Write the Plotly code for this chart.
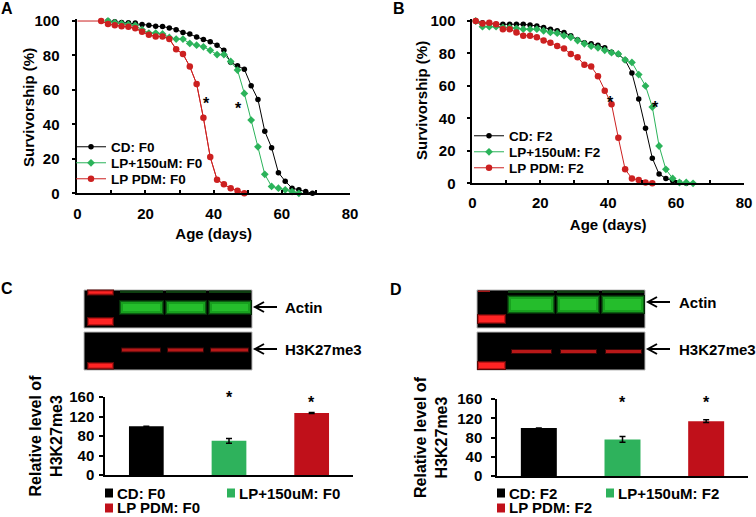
import plotly.graph_objects as go

FONT = "Liberation Sans, Arial, sans-serif"
W, H = 756, 517

# ---------------- DATA ----------------
# Panel A (F0) survivorship
days_cd_f0 = [9, 11, 13, 15, 17, 19, 21, 23, 25, 27, 29, 31, 33, 35, 37, 39, 41, 43, 45, 47,
              49, 51, 53, 55, 57, 59, 61, 63, 65, 67, 69]
surv_cd_f0 = [100, 99.6, 99.2, 99, 98.8, 98, 97.6, 97, 96.8, 96, 95, 93.4, 92.4, 90.7, 89.3, 88,
              86, 83, 76, 74, 72, 62.5, 54.5, 36, 26.5, 12, 7, 3, 2, 1, 0]
days_lp_f0 = [9, 11, 13, 15, 17, 19, 21, 23, 25, 27, 29, 31, 33, 35, 37, 39, 41, 43, 45, 47,
              49, 51, 53, 55, 57, 59, 61, 63, 65]
surv_lp_f0 = [100, 99, 98.5, 98, 97.5, 95, 93, 93, 92.5, 90.5, 89.5, 89.5, 87, 86, 85, 83,
              80.5, 80.5, 76.5, 71.5, 58, 42.5, 27, 11, 4, 3, 2, 1, 0]
days_pdm_f0 = [0, 7, 9, 11, 13, 15, 17, 19, 21, 23, 25, 27, 29, 31, 33, 35, 37, 39, 41, 43,
               45, 47, 49]
surv_pdm_f0 = [100, 100, 98.3, 97.5, 97, 96.7, 95.8, 93.8, 92, 91, 91, 89.6, 83.6, 80.8, 73.6,
               63.5, 43.8, 21, 7.9, 5.2, 2.9, 1.5, 0]

# Panel B (F2) survivorship
days_cd_f2 = [1, 3, 5, 7, 9, 11, 13, 15, 17, 19, 21, 23, 25, 27, 29, 31, 33, 35, 37, 39,
              41, 43, 45, 47, 49, 51, 53, 55, 57, 59, 61, 63]
surv_cd_f2 = [100, 99, 98.5, 98, 98, 98, 98, 98, 97.5, 97, 96, 95, 94, 93, 91, 88.5, 86.6, 86,
              85, 83.6, 80.8, 79.5, 76, 68, 52, 34, 15.5, 5.7, 3, 1.5, 0.5, 0]
days_lp_f2 = [1, 3, 5, 7, 9, 11, 13, 15, 17, 19, 21, 23, 25, 27, 29, 31, 33, 35, 37, 39,
              41, 43, 45, 47, 49, 51, 53, 55, 57, 59, 61, 63, 65]
surv_lp_f2 = [100, 96.5, 96.5, 96.5, 96, 96, 95.5, 95, 95, 95, 94, 93, 92.5, 91, 90, 88, 86,
              84.5, 83.5, 82, 80.5, 79.7, 76, 74.5, 67, 60, 47, 23, 8.6, 3, 0.5, 0.5, 0]
days_pdm_f2 = [1, 3, 5, 7, 9, 11, 13, 15, 17, 19, 21, 23, 25, 27, 29, 31, 33, 35, 37, 39,
               41, 43, 45, 47, 49, 51, 53]
surv_pdm_f2 = [100, 98.5, 99, 98, 95, 95, 93, 91, 91, 90, 88, 86.6, 84.6, 83, 79.7, 77.6, 73,
               72, 66, 57, 48.7, 28, 8.6, 3, 2, 0.5, 0]

# Panels C / D bar charts
bar_groups = ["CD", "LP+150uM", "LP PDM"]
h3_f0 = [100, 70, 127]
h3_f0_err = [0, 5, 1]
h3_f2 = [100, 76, 114]
h3_f2_err = [0, 6, 3]
sig_f0 = ["", "*", "*"]
sig_f2 = ["", "*", "*"]

x_ticks_surv = [0, 20, 40, 60, 80]
y_ticks_surv = [0, 20, 40, 60, 80, 100]
y_ticks_bar = [0, 40, 80, 120, 160]

BLACK = "#000000"
GREEN = "#2bb35a"
RED = "#cc2020"
BAR_GREEN = "#2eb25c"
BAR_RED = "#c0101a"


def X(px):
    return px / W


def Y(py):
    return 1 - py / H


fig = go.Figure()

# ---------------- Survival traces ----------------
def surv_trace(x, y, name, color, symbol, size, xa, ya, leg):
    return go.Scatter(x=x, y=y, mode="lines+markers", name=name,
                      line=dict(color=color, width=1),
                      marker=dict(symbol=symbol, size=size, color=color),
                      xaxis=xa, yaxis=ya, legend=leg, cliponaxis=False)

# leading segment of the LP PDM F0 curve (day 0, no marker)
fig.add_trace(go.Scatter(x=days_pdm_f0, y=surv_pdm_f0, mode="lines",
                         line=dict(color=RED, width=1), xaxis="x", yaxis="y",
                         showlegend=False, hoverinfo="skip"))
fig.add_trace(surv_trace(days_cd_f0, surv_cd_f0, "CD: F0", BLACK, "circle", 5.5, "x", "y", "legend"))
fig.add_trace(surv_trace(days_lp_f0, surv_lp_f0, "LP+150uM: F0", GREEN, "diamond", 6, "x", "y", "legend2"))
fig.add_trace(surv_trace(days_pdm_f0[1:], surv_pdm_f0[1:], "LP PDM: F0", RED, "circle", 6.5,
                         "x", "y", "legend3"))

fig.add_trace(surv_trace(days_cd_f2, surv_cd_f2, "CD: F2", BLACK, "circle", 5.5, "x2", "y2", "legend4"))
fig.add_trace(surv_trace(days_lp_f2, surv_lp_f2, "LP+150uM: F2", GREEN, "diamond", 6, "x2", "y2", "legend5"))
fig.add_trace(surv_trace(days_pdm_f2, surv_pdm_f2, "LP PDM: F2", RED, "circle", 6.5, "x2", "y2", "legend6"))

# ---------------- Bar traces ----------------
bar_colors = [BLACK, BAR_GREEN, BAR_RED]
fig.add_trace(go.Bar(x=bar_groups, y=h3_f0, marker=dict(color=bar_colors, line=dict(width=0)),
                     error_y=dict(type="data", array=h3_f0_err, color="black", thickness=1.5, width=3),
                     width=0.42, xaxis="x3", yaxis="y3", showlegend=False))
fig.add_trace(go.Bar(x=bar_groups, y=h3_f2, marker=dict(color=bar_colors, line=dict(width=0)),
                     error_y=dict(type="data", array=h3_f2_err, color="black", thickness=1.5, width=3),
                     width=0.43, xaxis="x4", yaxis="y4", showlegend=False))

# ---------------- Axes ----------------
tf = dict(family=FONT, size=15, color="black", weight="bold")
ttf = dict(family=FONT, size=15, color="black", weight="bold")
btf = dict(family=FONT, size=15, color="black", weight="bold")
common_x = dict(range=[0, 80], tickvals=x_ticks_surv, ticks="inside", ticklen=4, tickwidth=1.5,
                tickcolor="black", showline=True, linecolor="black", linewidth=1.5,
                showgrid=False, zeroline=False, tickfont=tf, automargin=False,
                minor=dict(dtick=10, tick0=0, ticks="inside", ticklen=4, tickwidth=1.5,
                           tickcolor="black", showgrid=False))
common_y = dict(range=[0, 101], tickvals=y_ticks_surv, ticks="outside", ticklen=4, tickwidth=1.5,
                tickcolor="black", showline=True, linecolor="black", linewidth=1.5,
                showgrid=False, zeroline=False, tickfont=tf, automargin=False)

fig.update_layout(
    xaxis=dict(common_x, domain=[X(77.3), X(350)], anchor="y", ticklabelstandoff=6,
               title=dict(text="Age (days)", font=ttf, standoff=7)),
    yaxis=dict(common_y, domain=[Y(193.3), Y(19.3)], anchor="x", ticklabelstandoff=9),
    xaxis2=dict(common_x, domain=[X(472.3), X(744)], anchor="y2", ticklabelstandoff=5,
                title=dict(text="Age (days)", font=ttf, standoff=9)),
    yaxis2=dict(common_y, domain=[Y(183.3), Y(19.4)], anchor="x2", ticklabelstandoff=8),
)

bar_x = dict(type="category", showline=True, linecolor="black", linewidth=1.5, ticks="",
             showticklabels=False, showgrid=False, zeroline=False, range=[-0.5, 2.5],
             automargin=False)
bar_y = dict(range=[0, 160], tickvals=y_ticks_bar, ticks="outside", ticklen=4, tickwidth=1.5,
             tickcolor="black", showline=True, linecolor="black", linewidth=1.5,
             showgrid=False, zeroline=False, tickfont=btf, automargin=False)
fig.update_layout(
    xaxis3=dict(bar_x, domain=[X(105), X(353)], anchor="y3"),
    yaxis3=dict(bar_y, domain=[Y(475), Y(397)], anchor="x3", ticklabelstandoff=2,
                title=dict(text="Relative level of<br>H3K27me3",
                           font=dict(family=FONT, size=16, color="black", weight="bold"), standoff=3)),
    xaxis4=dict(bar_x, domain=[X(497), X(748)], anchor="y4"),
    yaxis4=dict(bar_y, domain=[Y(476), Y(399)], anchor="x4", ticklabelstandoff=6,
                title=dict(text="Relative level of<br>H3K27me3",
                           font=dict(family=FONT, size=16, color="black", weight="bold"), standoff=6)),
)

# ---------------- Legends (survival) ----------------
lf = dict(family=FONT, size=13.5, color="black", weight="bold")
def leg(xpx, ypx):
    return dict(x=X(xpx), y=Y(ypx), xanchor="left", yanchor="middle", font=lf,
                bgcolor="rgba(0,0,0,0)", borderwidth=0, itemwidth=30, tracegroupgap=0)

fig.update_layout(
    legend=leg(71, 147), legend2=leg(71, 163), legend3=leg(71, 179),
    legend4=leg(469, 136), legend5=leg(469, 152), legend6=leg(469, 168),
)

shapes = []
annots = []


def rect(x0, y0, x1, y1, fill, line_color=None, lw=0):
    shapes.append(dict(type="rect", xref="paper", yref="paper",
                       x0=X(x0), x1=X(x1), y0=Y(y1), y1=Y(y0),
                       fillcolor=fill, line=dict(color=line_color or fill, width=lw),
                       layer="above"))


def text(xpx, ypx, s, size=15, xanchor="left", angle=0):
    annots.append(dict(x=X(xpx), y=Y(ypx), xref="paper", yref="paper", text=s,
                       showarrow=False, xanchor=xanchor, yanchor="middle", textangle=angle,
                       font=dict(family=FONT, size=size, color="black", weight="bold")))


def arrow(x_tip, x_tail, ypx):
    path = (f"M {X(x_tail)},{Y(ypx)} L {X(x_tip)},{Y(ypx)} "
            f"M {X(x_tip + 9)},{Y(ypx - 5)} L {X(x_tip)},{Y(ypx)} L {X(x_tip + 9)},{Y(ypx + 5)}")
    shapes.append(dict(type="path", xref="paper", yref="paper", path=path,
                       line=dict(color="black", width=2)))


def green_band(x0, x1, y0, y1):
    rect(x0 - 1, y0 - 2, x1 + 1, y1 + 2, "#052a08")
    rect(x0, y0 - 1, x1, y1 + 1, "#0c5e12")
    rect(x0 + 1, y0, x1 - 1, y1, "#18a01f")
    rect(x0 + 3, y0 + 2, x1 - 3, y1 - 2, "#25bd2c")


def red_band(x0, x1, y0, y1):
    rect(x0 - 1, y0 - 1, x1 + 1, y1 + 1, "#5a0808")
    rect(x0, y0, x1, y1, "#c01414")
    rect(x0 + 1, y0 + 1, x1 - 1, y1 - 1, "#ff2424")


def thin_red(x0, x1, yc):
    rect(x0, yc - 2.5, x1, yc + 2.5, "#3a0606")
    rect(x0 + 1, yc - 1.5, x1 - 1, yc + 1.5, "#b81818")


# ---------------- Survival y-axis titles ----------------
text(28, 108, "Survivorship (%)", 15, "center", -90)
text(421, 101, "Survivorship (%)", 15, "center", -90)

# ---------------- Blot C ----------------
rect(84, 290, 252, 328, "black", "#b8b8b8", 1)
rect(84, 332, 252, 370, "black", "#b8b8b8", 1)
red_band(88, 113, 290.5, 294.5)
red_band(88, 113, 318, 325)
red_band(88, 113, 363, 368.5)
for x0, x1 in [(120, 163), (166, 206), (209, 251)]:
    rect(x0, 290.5, x1, 293, "#0e3e10")
    green_band(x0, x1, 302, 313)
    thin_red(x0 + 1, x1 - 2, 350)
arrow(255, 277, 307)
arrow(255, 277, 349)
text(283, 307, "Actin")
text(283, 349, "H3K27me3")

# ---------------- Blot D ----------------
rect(477, 290, 645, 328, "black", "#b8b8b8", 1)
rect(477, 332, 645, 370, "black", "#b8b8b8", 1)
rect(478, 290.5, 490, 292, "#a01515")
red_band(478, 505, 315, 323)
red_band(478, 505, 362, 369)
for x0, x1 in [(508, 554), (557, 599), (602, 644)]:
    rect(x0, 290.5, x1, 293, "#0e3e10")
    green_band(x0, x1, 297, 312)
    thin_red(x0 + 3, x1 - 2, 351.5)
arrow(648, 670, 302)
arrow(648, 670, 349)
text(677, 302, "Actin")
text(677, 349, "H3K27me3")

# ---------------- Panel letters ----------------
text(7, 8, "A", 16, "center")
text(399, 8, "B", 16, "center")
text(7, 288, "C", 16, "center")
text(396, 289, "D", 16, "center")

# ---------------- Significance stars ----------------
def star(xref, yref, x, y):
    annots.append(dict(x=x, y=y, xref=xref, yref=yref, text="*", showarrow=False,
                       xanchor="center", yanchor="middle",
                       font=dict(family=FONT, size=16, color="black", weight="bold")))

star("x", "y", 38, 52)
star("x", "y", 47.4, 49)
star("x2", "y2", 40.8, 50)
star("x2", "y2", 54, 46.5)
star_px_f0 = [0, 397, 402]
star_px_f2 = [0, 402, 402]
for i, s in enumerate(sig_f0):
    if s:
        star("x3", "paper", bar_groups[i], Y(star_px_f0[i]))
for i, s in enumerate(sig_f2):
    if s:
        star("x4", "paper", bar_groups[i], Y(star_px_f2[i]))

# ---------------- Bar legends (manual) ----------------
def bar_legend(sq_x, sq_y, label_x, color, label):
    rect(sq_x, sq_y - 4.5, sq_x + 8, sq_y + 4.5, color)
    text(label_x, sq_y, label, 15)

bar_legend(105, 493, 115, BLACK, "CD: F0")
bar_legend(227, 493, 237, BAR_GREEN, "LP+150uM: F0")
bar_legend(105, 508, 115, BAR_RED, "LP PDM: F0")
bar_legend(497, 493, 507, BLACK, "CD: F2")
bar_legend(606, 493, 616, BAR_GREEN, "LP+150uM: F2")
bar_legend(497, 508, 507, BAR_RED, "LP PDM: F2")

fig.update_layout(
    template="none",
    width=W, height=H, margin=dict(l=0, r=0, t=0, b=0, pad=0),
    paper_bgcolor="white", plot_bgcolor="white",
    font=dict(family=FONT, color="black"),
    shapes=shapes, annotations=annots, bargap=0.5,
)

fig.write_html("out.html", config={"displayModeBar": False},
               post_script="document.body.style.margin='0';document.body.style.padding='0';")
